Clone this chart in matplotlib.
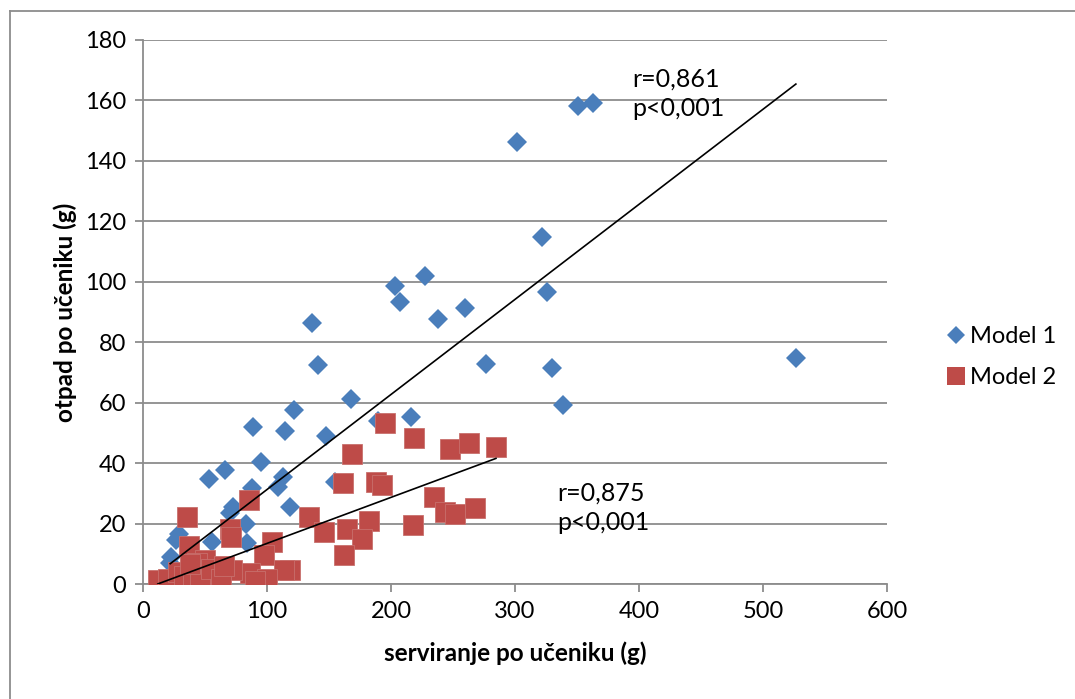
import numpy as np
import matplotlib
matplotlib.use('Agg')
import matplotlib.pyplot as plt
from matplotlib.lines import Line2D

plt.rcParams['font.family'] = ['Lato', 'DejaVu Sans']

# Model 1 (serviranje, otpad)
m1_x = [363, 351, 301.6, 321.8, 326, 330, 338.7, 526.6, 276.6, 259.7, 238, 227.4, 203, 207,
        216, 189.5, 168, 147.5, 141, 136, 122, 114.5, 154.5, 88.7, 95, 113, 109, 118.5, 88,
        66, 53, 83, 84, 72.6, 70, 55.6, 29, 26.6, 23, 22, 45]
m1_y = [159.2, 158.2, 146.3, 114.8, 96.6, 71.5, 59.2, 74.8, 72.9, 91.3, 87.7, 101.9, 98.6, 93.3,
        55.3, 54, 61.2, 49, 72.5, 86.3, 57.5, 50.7, 33.8, 52, 40.4, 35.4, 32, 25.6, 31.8,
        37.7, 34.7, 19.9, 13.6, 25.5, 23.5, 13.9, 16.5, 14.6, 9, 7, 0]

# Model 2
m2_x = [195, 219, 247.6, 263, 284.7, 168.5, 161, 188, 193, 234.7, 243.5, 252, 268, 134, 146,
        164.5, 182.6, 176.6, 162, 217.7, 118.5, 85.5, 35.5, 70, 71, 37, 104, 98, 113.7, 86,
        72, 59.7, 50, 12, 24, 30, 43.5, 51.6, 100, 90, 20, 28, 33, 40, 46, 55, 63, 38, 65]
m2_y = [53.2, 48.3, 44.7, 46.7, 45.4, 43, 33.4, 33.8, 32.7, 28.8, 23.8, 23.2, 25.1, 22.2, 17.2,
        18.2, 20.8, 14.9, 9.6, 19.5, 4.6, 27.8, 22.2, 18.2, 15.6, 12.6, 13.9, 9.6, 4.6, 3.6,
        4.6, 2.3, 8, 1.2, 0.7, 0, 7, 3.6, 1.7, 1, 1.5, 4, 2.5, 1, 3, 5, 1.5, 6.5, 6]

# linear trend (slope, intercept)
trend1 = (0.3145, -0.2)
trend2 = (0.1523, -1.8)

fig = plt.figure(figsize=(10.75, 6.99), dpi=100)
ax = fig.add_axes([0.133, 0.1645, 0.692, 0.7783])

ax.plot(m1_x, m1_y, linestyle='none', marker='D', markersize=10.2,
        color='#4A7EBB', markeredgewidth=0, label='Model 1', zorder=3)
ax.plot(m2_x, m2_y, linestyle='none', marker='s', markersize=14.2,
        color='#BE4B48', markeredgecolor='#C8706D', markeredgewidth=0.6,
        label='Model 2', zorder=4)

xx1 = np.array([min(m1_x), max(m1_x)])
ax.plot(xx1, trend1[0] * xx1 + trend1[1], color='black', lw=1.2, zorder=5)
xx2 = np.array([min(m2_x), max(m2_x)])
ax.plot(xx2, trend2[0] * xx2 + trend2[1], color='black', lw=1.2, zorder=5)

ax.text(395, 171, 'r=0,861\np<0,001', fontsize=18, va='top', linespacing=1.35, zorder=6)
ax.text(334.5, 34, 'r=0,875\np<0,001', fontsize=18, va='top', linespacing=1.35, zorder=6)

ax.set_xlim(0, 600)
ax.set_ylim(0, 180)
ax.set_xticks(range(0, 601, 100))
ax.set_yticks(range(0, 181, 20))
ax.yaxis.grid(True, color='#8C8C8C', lw=1.3)
ax.set_axisbelow(True)
for s in ['top', 'right']:
    ax.spines[s].set_visible(False)
for s in ['left', 'bottom']:
    ax.spines[s].set_color('#8C8C8C')
    ax.spines[s].set_linewidth(1.3)
ax.tick_params(axis='both', colors='#8C8C8C', length=6, width=1.3, labelsize=17,
               labelcolor='black', pad=6)
ax.set_xlabel('serviranje po učeniku (g)', fontsize=17.5, fontweight='bold', labelpad=14)
ax.set_ylabel('otpad po učeniku (g)', fontsize=17.5, fontweight='bold', labelpad=6)

handles = [Line2D([], [], linestyle='none', marker='D', markersize=9.5, color='#4A7EBB',
                  markeredgewidth=0),
           Line2D([], [], linestyle='none', marker='s', markersize=12.5, color='#BE4B48',
                  markeredgewidth=0)]
fig.legend(handles, ['Model 1', 'Model 2'], loc='center left',
           bbox_to_anchor=(0.873, 0.489), frameon=False, fontsize=17,
           handlelength=0.7, handletextpad=0.25, labelspacing=0.85, borderaxespad=0)

# outer chart frame
fig.add_artist(Line2D([0.0093, 0.0093], [0, 0.984], transform=fig.transFigure,
                      color='#8C8C8C', lw=1.3))
fig.add_artist(Line2D([0.0093, 1], [0.984, 0.984], transform=fig.transFigure,
                      color='#8C8C8C', lw=1.3))

fig.savefig('out.png', dpi=100)
